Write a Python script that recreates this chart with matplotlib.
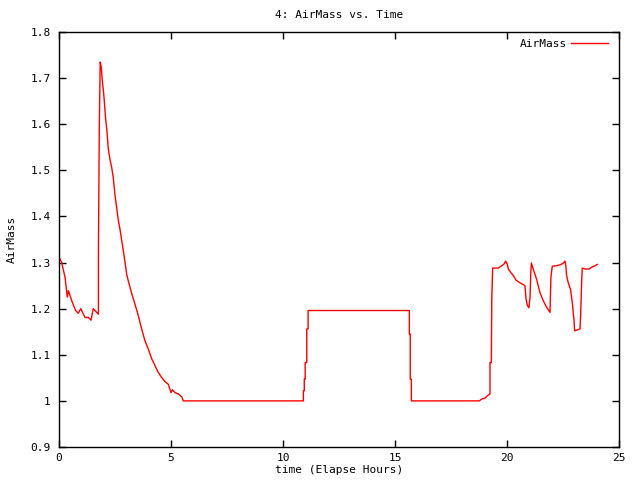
import matplotlib

matplotlib.use("Agg")
import matplotlib.pyplot as plt
from matplotlib.ticker import FuncFormatter

# ---- data (elapsed hours, airmass) -----------------------------------------
hours = [
    0.00, 0.12, 0.27, 0.37, 0.42, 0.57, 0.74, 0.86, 0.97, 1.16, 1.31, 1.43,
    1.53, 1.76, 1.76, 1.80, 1.84, 1.89, 1.93, 1.98, 2.02, 2.08, 2.13, 2.20,
    2.28, 2.35, 2.42, 2.50, 2.58, 2.65, 2.72, 2.80, 2.87, 2.95, 3.02, 3.09,
    3.25, 3.39, 3.54, 3.69, 3.84, 3.99, 4.14, 4.29, 4.43, 4.58, 4.73, 4.88,
    5.00, 5.06, 5.18, 5.33, 5.48, 5.55,
    10.91, 10.91, 10.95, 10.95, 10.99, 10.99, 11.06, 11.06, 11.12, 11.12,
    15.64, 15.64, 15.68, 15.68, 15.73, 15.73,
    18.76, 18.87, 19.02, 19.12, 19.24, 19.24, 19.30, 19.32, 19.36,
    19.61, 19.76, 19.87, 19.94, 20.01, 20.06, 20.16, 20.28, 20.40, 20.55,
    20.73, 20.80, 20.85, 20.91, 20.98, 21.03, 21.06, 21.09, 21.17, 21.32,
    21.47, 21.62, 21.77, 21.92, 21.96, 22.02, 22.19, 22.37, 22.49, 22.59,
    22.63, 22.66, 22.73, 22.84, 22.93, 22.99, 23.02, 23.14, 23.26, 23.29,
    23.33, 23.36, 23.48, 23.67, 23.78, 23.93, 24.03,
]
airmass = [
    1.312, 1.300, 1.268, 1.225, 1.239, 1.217, 1.196, 1.190, 1.200, 1.181,
    1.181, 1.175, 1.200, 1.188, 1.324, 1.598, 1.735, 1.723, 1.696, 1.674,
    1.652, 1.612, 1.591, 1.547, 1.522, 1.507, 1.485, 1.446, 1.417, 1.391,
    1.373, 1.348, 1.326, 1.300, 1.275, 1.261, 1.232, 1.210, 1.185, 1.156,
    1.130, 1.112, 1.091, 1.076, 1.062, 1.051, 1.042, 1.036, 1.018, 1.024,
    1.018, 1.015, 1.009, 1.000,
    1.000, 1.022, 1.022, 1.047, 1.047, 1.083, 1.083, 1.156, 1.156, 1.196,
    1.196, 1.145, 1.145, 1.047, 1.047, 1.000,
    1.000, 1.004, 1.006, 1.011, 1.015, 1.083, 1.083, 1.221, 1.288,
    1.288, 1.293, 1.297, 1.303, 1.297, 1.286, 1.279, 1.272, 1.262, 1.257,
    1.252, 1.250, 1.221, 1.207, 1.202, 1.226, 1.275, 1.299, 1.286, 1.264,
    1.235, 1.217, 1.203, 1.192, 1.268, 1.292, 1.293, 1.295, 1.298, 1.303,
    1.291, 1.272, 1.257, 1.241, 1.207, 1.174, 1.152, 1.154, 1.156, 1.188,
    1.254, 1.288, 1.286, 1.286, 1.290, 1.293, 1.296,
]

x_ticks = [0, 5, 10, 15, 20, 25]
y_ticks = [0.9, 1.0, 1.1, 1.2, 1.3, 1.4, 1.5, 1.6, 1.7, 1.8]

plt.rcParams["font.family"] = ["DejaVu Sans Mono"]
plt.rcParams["font.size"] = 8

fig = plt.figure(figsize=(6.4, 4.8), dpi=100)
ax = fig.add_axes([59 / 640, 1 - 447 / 480, 560 / 640, 415 / 480])

ax.plot(hours, airmass, color="#ff0000", linewidth=1.0, label="AirMass")

ax.set_xlim(0, 25)
ax.set_ylim(0.9, 1.8)
ax.set_xticks(x_ticks)
ax.set_yticks(y_ticks)
ax.yaxis.set_major_formatter(FuncFormatter(lambda v, p: f"{v:g}"))
ax.tick_params(direction="in", length=5, width=1, top=True, right=True,
               labelsize=8, pad=6, color="black")
ax.tick_params(axis="x", pad=4)
for sp in ax.spines.values():
    sp.set_linewidth(1.0)

ax.set_title("4: AirMass vs. Time", fontsize=8, pad=10)
ax.set_xlabel("time (Elapse Hours)", fontsize=8, labelpad=2)
ax.set_ylabel("AirMass", fontsize=8, labelpad=10)

ax.legend(loc="upper right", bbox_to_anchor=(1.0, 1.0 + 4 / 415),
          frameon=False, markerfirst=False,
          handlelength=3.3, handletextpad=0.4, fontsize=8,
          borderaxespad=0.6)

fig.savefig("out.png", dpi=100)
